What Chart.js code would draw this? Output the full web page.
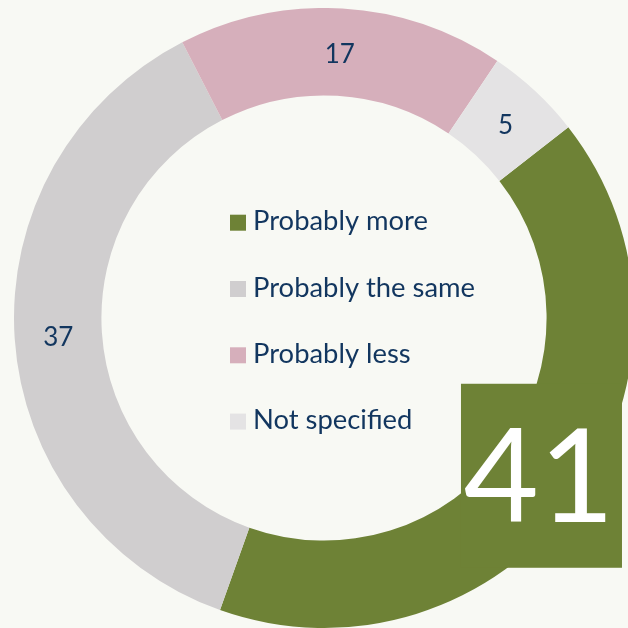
<!DOCTYPE html>
<html>
<head>
<meta charset="utf-8">
<script src="https://cdn.jsdelivr.net/npm/chart.js"></script>
<style>
    html, body { margin: 0; padding: 0; width: 628px; height: 628px; overflow: hidden; background: #f8f9f4; }
    #chart-wrap { position: absolute; left: 14px; top: 8px; width: 620px; height: 620px; }
</style>
</head>
<body>
<div id="chart-wrap"><canvas id="chart-answers" width="620" height="620"></canvas></div>
<script>
const categories = ['Probably more', 'Probably the same', 'Probably less', 'Not specified']
const answers = [41, 37, 17, 5]
const colors = ['#6e8236', '#d0cecf', '#d6afbb', '#e4e3e4']

const textColor = '#12365f'
const fontFamily = 'Lato, "Open Sans", sans-serif'

// legend sits inside the hole, labels on the ring, the biggest one gets a box
const ringLabels = {
    id: 'ringLabels',
    afterDatasetsDraw(chart) {
        const { ctx } = chart
        const meta = chart.getDatasetMeta(0)
        const values = chart.data.datasets[0].data
        const maxIndex = values.indexOf(Math.max(...values))

        ctx.save()
        meta.data.forEach((arc, i) => {
            const { x, y } = arc.tooltipPosition()
            if (i === maxIndex) {
                ctx.fillStyle = chart.data.datasets[0].backgroundColor[i]
                ctx.fillRect(x - 79, y - 90, 161, 184)
                ctx.fillStyle = '#ffffff'
                ctx.font = `130px ${fontFamily}`
                ctx.textAlign = 'center'
                ctx.textBaseline = 'middle'
                ctx.fillText(values[i], x - 1, y + 6)
                return
            }
            ctx.fillStyle = textColor
            ctx.font = `26px ${fontFamily}`
            ctx.textAlign = 'center'
            ctx.textBaseline = 'middle'
            ctx.fillText(values[i], x, y + 2)
        })

        const left = 216
        const top = 206.7
        const gap = 66.3
        chart.data.labels.forEach((label, i) => {
            const rowY = top + i * gap
            ctx.fillStyle = chart.data.datasets[0].backgroundColor[i]
            ctx.fillRect(left, rowY, 16, 16)
            ctx.fillStyle = textColor
            ctx.font = `27.4px ${fontFamily}`
            ctx.textAlign = 'left'
            ctx.textBaseline = 'alphabetic'
            ctx.fillText(label, left + 23, rowY + 15.5)
        })
        ctx.restore()
    }
}

const ctx = document.getElementById('chart-answers').getContext('2d')

const chart = new Chart(ctx, {
    type: 'doughnut',
    data: {
        labels: categories,
        datasets: [{
            data: answers,
            backgroundColor: colors,
            borderWidth: 0,
            hoverOffset: 0
        }]
    },
    options: {
        responsive: false,
        animation: false,
        rotation: 52,
        cutout: '71.8%',
        layout: { padding: 0 },
        plugins: {
            legend: { display: false },
            tooltip: { enabled: false }
        }
    },
    plugins: [ringLabels]
})
</script>
</body>
</html>
